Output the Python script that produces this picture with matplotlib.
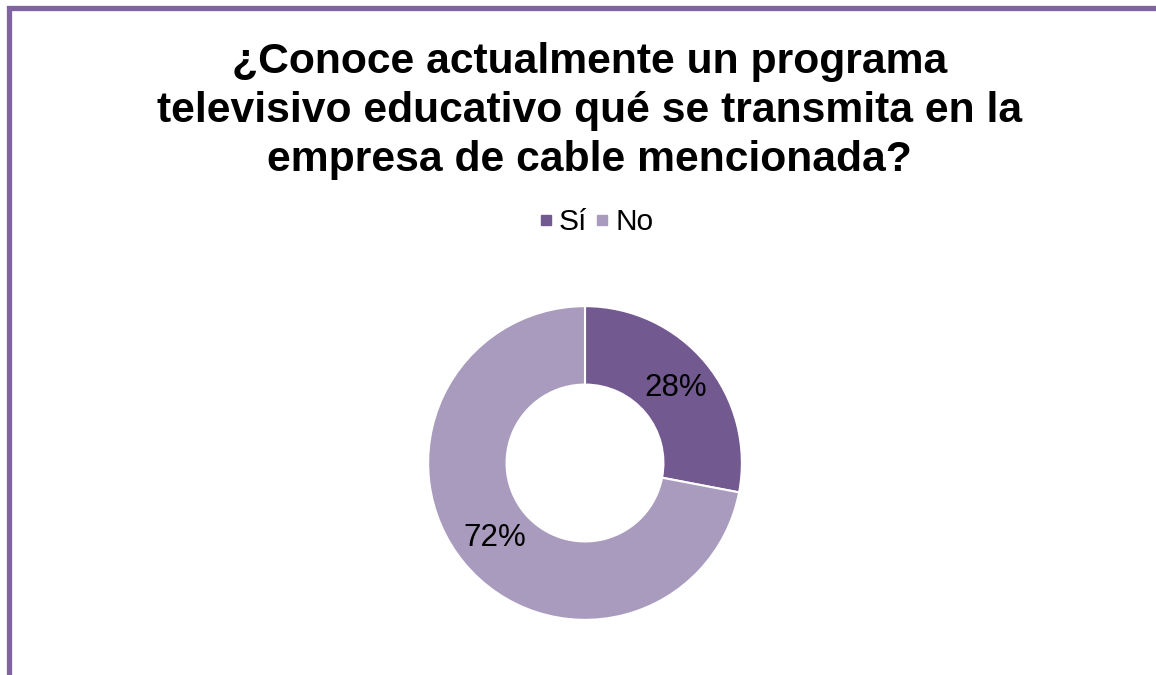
import matplotlib.pyplot as plt
from matplotlib.patches import Rectangle
from matplotlib.lines import Line2D

# Survey answers
labels = ['Sí', 'No']
values = [28, 72]
colors = ['#725990', '#A99BBD']
title = ('¿Conoce actualmente un programa\n'
         'televisivo educativo qué se transmita en la\n'
         'empresa de cable mencionada?')

W, H = 1156, 675
plt.rcParams['font.family'] = ['Liberation Sans', 'DejaVu Sans']

fig = plt.figure(figsize=(W / 100, H / 100), dpi=100)

# purple frame (right and bottom edges run off the picture)
fig.patches.append(Rectangle((8.5 / W, -0.1), 1.2, 1.1 - 8.5 / H,
                             transform=fig.transFigure, fill=False,
                             edgecolor='#8064A2', linewidth=3.8))

# donut centred at (585, 463) px, outer radius 160 px
cx, cy, r = 585, 463, 160
ax = fig.add_axes([(cx - r) / W, (H - cy - r) / H, 2 * r / W, 2 * r / H])
wedges, texts, autotexts = ax.pie(
    values, colors=colors, startangle=90, counterclock=False,
    autopct='%1.0f%%', pctdistance=0.75, radius=1,
    wedgeprops=dict(width=0.5, edgecolor='white', linewidth=1.5),
    textprops=dict(fontsize=22.5, color='black'))
ax.set_xlim(-1.02, 1.02)
ax.set_ylim(-1.02, 1.02)
ax.set_aspect('equal')
ax.axis('off')

fig.text(0.51, 1 - 111 / H, title, ha='center', va='center',
         fontsize=30.7, fontweight='bold', linespacing=1.3)

handles = [Line2D([], [], marker='s', linestyle='none', markersize=7.5,
                  markerfacecolor=c, markeredgecolor=c) for c in colors]
fig.legend(handles, labels, loc='center', bbox_to_anchor=(596 / W, 1 - 222 / H),
           ncol=2, frameon=False, fontsize=21.5, handlelength=0.45,
           handletextpad=0.2, columnspacing=0.3)

fig.savefig('out.png', dpi=100)
